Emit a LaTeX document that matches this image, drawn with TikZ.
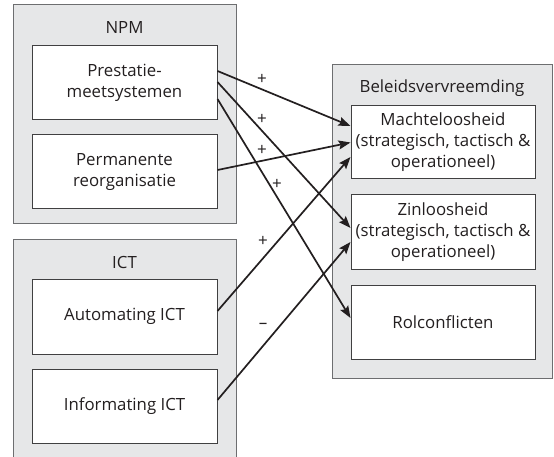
\documentclass[tikz,border=0pt]{standalone}
\usepackage{fontspec}
\setmainfont{Open Sans}
\usetikzlibrary{arrows.meta}
\definecolor{panel}{HTML}{E6E7E8}
\definecolor{panelline}{HTML}{6D6E70}
\definecolor{boxline}{HTML}{404041}
\definecolor{ink}{HTML}{231F20}
\tikzset{
  outer/.style={draw=panelline, fill=panel, line width=1pt, inner sep=0pt},
  inner/.style={draw=boxline, fill=white, line width=1pt, align=center,
    minimum width=185pt, minimum height=74pt, inner sep=0pt,
    font=\fontsize{16.8}{21}\selectfont, text=ink},
  title/.style={font=\fontsize{16.8}{20}\selectfont, text=ink, inner sep=0pt},
  sign/.style={font=\fontsize{17}{19}\selectfont, text=ink, inner sep=0pt},
  link/.style={draw=ink, line width=1.7pt, -{Stealth[length=12pt,width=9pt,inset=2pt]}}
}
\begin{document}
\begin{tikzpicture}[x=1pt,y=-1pt]
\useasboundingbox (0,0) rectangle (554,457);
\begin{scope}
\clip (0,0) rectangle (554,457);
% left panels
\node[outer, minimum width=223pt, minimum height=219pt] (npm) at (124.5,114.5) {};
\node[title] (npmt) at (124.5,28) {NPM};
\node[inner] (pres) at (124.5,83) {Prestatie-\\meetsystemen};
\node[inner] (perm) at (124.5,172) {Permanente\\reorganisatie};
\node[outer, minimum width=223pt, minimum height=232pt] (ict) at (124.5,355) {};
\node[title] (ictt) at (124.5,262) {ICT};
\node[inner, minimum height=75pt] (auto) at (124.5,316.5) {Automating ICT};
\node[inner] (info) at (124.5,406) {Informating ICT};
% right panel
\node[outer, minimum width=220pt, minimum height=313pt] (bel) at (442,221.5) {};
\node[title] (belt) at (442,88) {Beleidsvervreemding};
\node[inner, minimum width=184pt, minimum height=73pt] (macht) at (443,142.5) {Machteloosheid\\(strategisch, tactisch \&\\operationeel)};
\node[inner, minimum width=184pt] (zin) at (443,232) {Zinloosheid\\(strategisch, tactisch \&\\operationeel)};
\node[inner, minimum width=184pt] (rol) at (443,322) {Rolconflicten};
% connectors
\draw[link] ([yshift=12pt]pres.east) -- ([yshift=16.5pt]macht.west);
\draw[link] ([yshift=1pt]pres.east) -- ([yshift=4pt]zin.west);
\draw[link] ([yshift=-16pt]pres.east) -- ([yshift=4pt]rol.west);
\draw[link] ([yshift=2pt]perm.east) -- ([yshift=0pt]macht.west);
\draw[link] ([yshift=5.5pt]auto.east) -- ([yshift=-14.5pt]macht.west);
\draw[link] ([yshift=6pt]info.east) -- ([yshift=-10pt]zin.west);
% signs
\node[sign] (s1) at (262,79) {+};
\node[sign] (s2) at (262,119) {+};
\node[sign] (s3) at (262,150) {+};
\node[sign] (s4) at (277,184) {+};
\node[sign] (s5) at (263,241) {+};
\node[sign] (s6) at (263,326) {–};
\end{scope}
\end{tikzpicture}
\end{document}
